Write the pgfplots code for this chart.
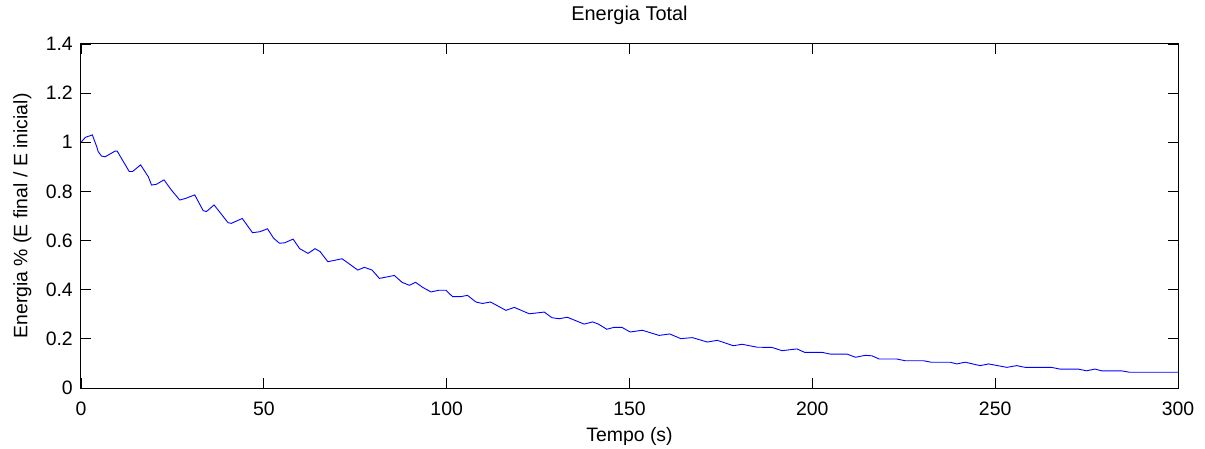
\documentclass[border=0pt]{standalone}
\usepackage{fontspec}
\setmainfont{Liberation Sans}
\usepackage{pgfplots}
\pgfplotsset{compat=1.18}
\begin{document}
\begin{tikzpicture}
\useasboundingbox (-81bp,-61bp) rectangle (1124bp,388bp);
\begin{axis}[
  scale only axis,
  width=1097bp, height=344bp,
  xmin=0, xmax=300, ymin=0, ymax=1.4,
  xtick={0,50,...,300},
  ytick={0,0.2,0.4,0.6,0.8,1,1.2,1.4},
  yticklabels={0,0.2,0.4,0.6,0.8,1,1.2,1.4},
  tick align=inside,
  major tick length=10bp,
  tick style={black, line width=0.8bp},
  axis line style={line width=1bp},
  /pgf/number format/assume math mode=true,
  font=\fontsize{19.5}{23}\selectfont,
  ticklabel style={font=\fontsize{19.5}{23}\selectfont},
  xticklabel style={anchor=base, yshift=-27bp},
  yticklabel style={anchor=east, inner sep=0pt, xshift=-8bp},
  title={Energia Total},
  title style={at={(axis description cs:0.5,1)}, anchor=base, yshift=17.3bp, inner sep=0pt, font=\fontsize{20}{24}\selectfont},
  xlabel={Tempo (s)},
  xlabel style={at={(axis description cs:0.5,0)}, anchor=base, yshift=-53bp, inner sep=0pt},
  ylabel={Energia \% (E final / E inicial)},
  ylabel style={at={(axis description cs:-0.04895,0.5)}, anchor=base, rotate=0, inner sep=0pt},
]
\addplot[blue, line width=0.9bp] coordinates {
(0,1.0)(1.2,1.02)(3.1,1.03)(4.3,0.982)(4.7,0.962)(5.6,0.944)(6.6,0.941)(9.3,0.964)(9.9,0.964)
(11.4,0.926)(13.2,0.881)(14.1,0.881)(16.3,0.908)(18.4,0.860)(19.3,0.826)(20.6,0.829)(22.7,0.847)
(24.7,0.806)(27.0,0.765)(28.7,0.772)(31.1,0.786)(33.4,0.722)(34.3,0.718)(36.4,0.745)(40.2,0.673)
(41.1,0.670)(44.1,0.690)(46.9,0.632)(48.9,0.636)(51.0,0.648)(52.7,0.609)(54.3,0.589)(55.7,0.591)
(58.0,0.606)(59.8,0.567)(62.1,0.548)(64.0,0.567)(65.4,0.555)(67.5,0.514)(71.4,0.526)(75.7,0.480)
(77.5,0.491)(79.6,0.480)(81.6,0.446)(85.7,0.458)(87.8,0.430)(89.8,0.418)(91.5,0.430)(93.4,0.410)
(95.7,0.391)(98.0,0.398)(99.8,0.398)(101.6,0.372)(103.9,0.372)(105.7,0.377)(108.0,0.350)(109.8,0.344)
(112.0,0.350)(116.2,0.316)(118.5,0.328)(122.6,0.302)(126.7,0.309)(128.8,0.286)(130.8,0.282)(133.0,0.288)
(137.6,0.260)(139.9,0.269)(141.5,0.260)(143.8,0.239)(145.8,0.247)(147.9,0.247)(150.2,0.228)(153.5,0.235)
(158.1,0.214)(161.0,0.220)(164.0,0.201)(167.2,0.205)(171.3,0.187)(174.0,0.194)(178.4,0.172)(180.8,0.178)
(184.9,0.166)(189.0,0.165)(191.7,0.152)(195.8,0.159)(197.9,0.145)(202.7,0.145)(204.9,0.138)(209.5,0.138)
(211.8,0.125)(214.5,0.133)(216.3,0.131)(218.3,0.118)(223.1,0.118)(225.4,0.111)(230.4,0.111)(232.5,0.105)
(237.7,0.105)(239.5,0.098)(241.8,0.105)(245.9,0.091)(248.2,0.098)(253.2,0.084)(255.9,0.091)(258.2,0.084)
(265.4,0.084)(267.7,0.077)(272.7,0.077)(275.0,0.070)(277.3,0.077)(279.1,0.070)(284.5,0.070)(286.8,0.064)
(300,0.064)
};
\end{axis}
\end{tikzpicture}
\end{document}
